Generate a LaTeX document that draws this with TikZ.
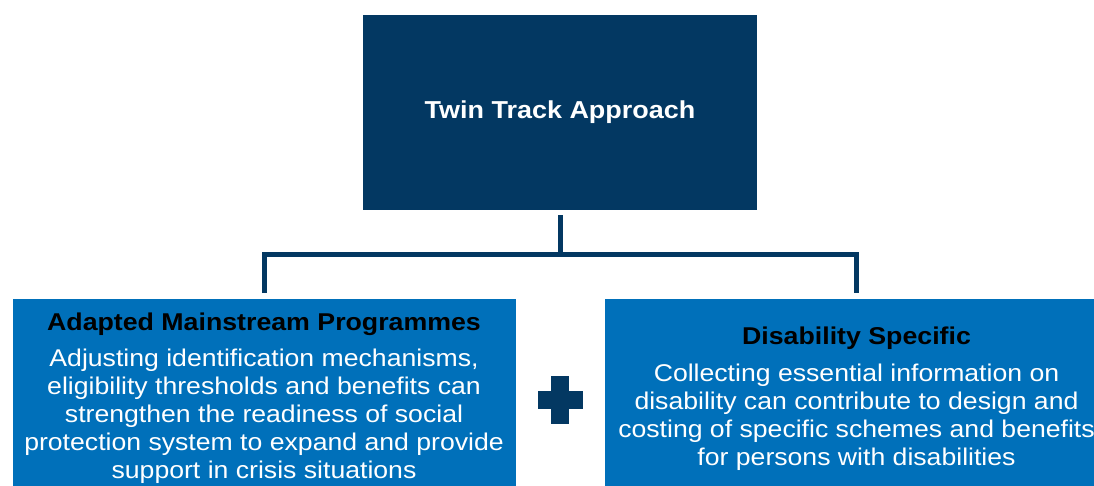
\documentclass[tikz,border=0pt]{standalone}
\usepackage{fontspec}
\setmainfont[FakeStretch=1.1]{Liberation Sans}
\usepackage{tikz}
\usetikzlibrary{positioning,calc}
\definecolor{navy}{RGB}{3,56,98}
\definecolor{trackblue}{RGB}{0,112,186}

\begin{document}
\begin{tikzpicture}[x=1pt, y=-1pt,
  topbox/.style = {shape=rectangle, fill=navy, text=white, inner sep=0pt,
    minimum width=394pt, minimum height=195pt,
    font=\bfseries\fontsize{24.5}{30}\selectfont},
  trackbox/.style = {shape=rectangle, fill=trackblue, inner sep=0pt,
    minimum width=503pt, minimum height=210pt, anchor=north},
  headtext/.style = {inner sep=0pt, align=center, text=black,
    font=\bfseries\fontsize{24.3}{28}\selectfont},
  bodytext/.style = {inner sep=0pt, align=center, text=white,
    font=\fontsize{24.2}{28}\selectfont},
  branch/.style = {draw=navy, line width=5pt}]
  \clip (0,0) rectangle (1094,486);
  \node[topbox] (twin) at (560,112.5) {Twin Track Approach};
  \node[trackbox] (mainstream) at (264,299) {};
  \node[trackbox] (specific) at (856.5,299) {};
  \coordinate (fork) at (560,254.5);
  \draw[branch, shorten <=5pt] (twin.south) -- (fork);
  \draw[branch, shorten <=6pt, shorten >=6pt]
    (mainstream.north) |- (fork) -| (specific.north);
  \node[headtext, anchor=base] (mainhead) at (264,330)
    {Adapted Mainstream Programmes};
  \node[bodytext, anchor=base] (mainbody) at (264,478.7)
    {Adjusting identification mechanisms,\\
     eligibility thresholds and benefits can\\
     strengthen the readiness of social\\
     protection system to expand and provide\\
     support in crisis situations};
  \node[headtext, anchor=base] (spechead) at (856.5,344.3)
    {Disability Specific};
  \node[bodytext, anchor=base] (specbody) at (856.5,465.7)
    {Collecting essential information on\\
     disability can contribute to design and\\
     costing of specific schemes and benefits\\
     for persons with disabilities};
  \coordinate (plus) at (560,399.5);
  \fill[navy] ($(plus)+(-22.5,-9)$) rectangle ($(plus)+(22.5,9)$);
  \fill[navy] ($(plus)+(-9,-24)$) rectangle ($(plus)+(9,24)$);
\end{tikzpicture}
\end{document}
